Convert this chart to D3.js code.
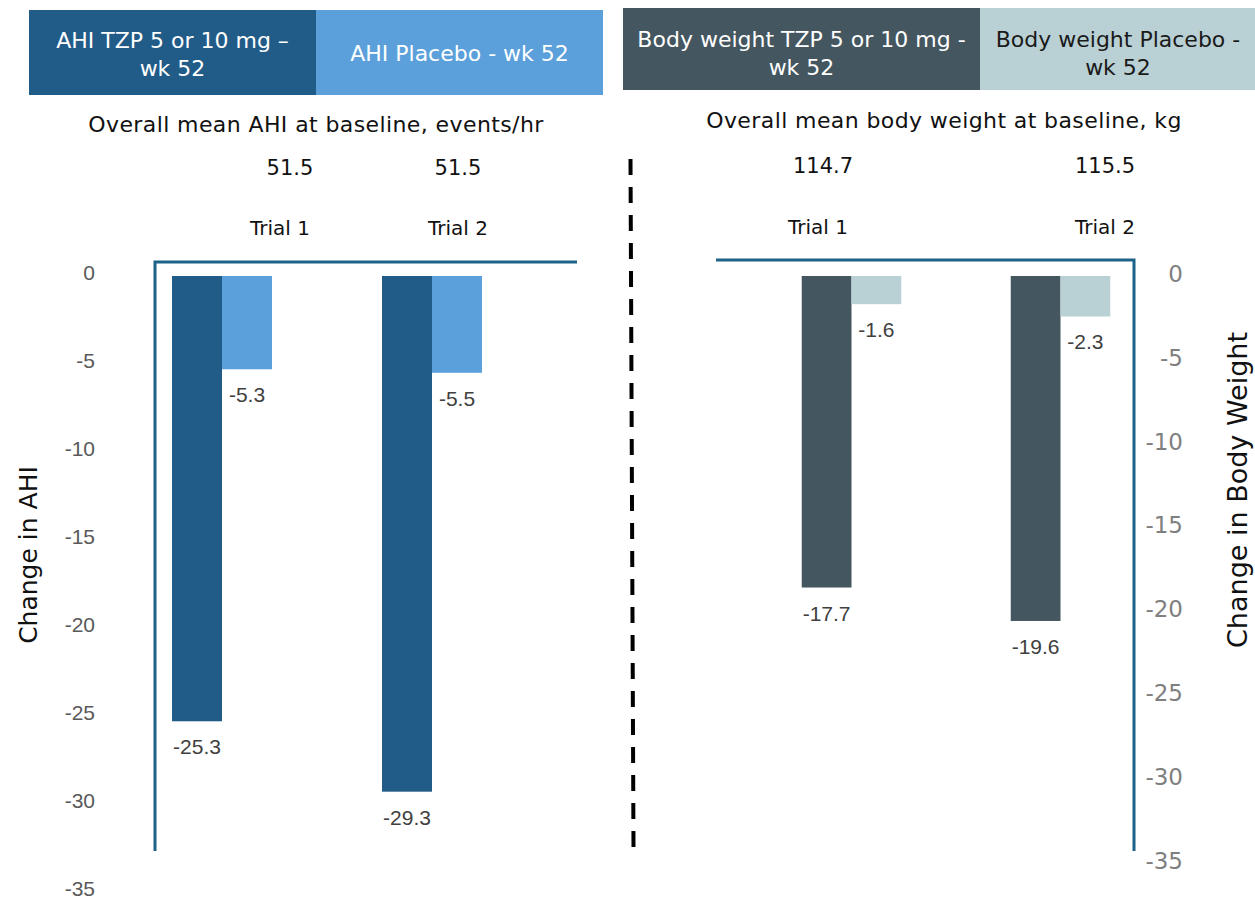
<!doctype html>
<html lang="en">
<head>
<meta charset="utf-8">
<title>AHI and body weight change</title>
<script src="https://d3js.org/d3.v7.min.js"></script>
<style>
  body { margin: 0; background: #fff; }
  svg text { font-family: "DejaVu Sans", sans-serif; }
  .num { font-family: "Liberation Sans", Arial, sans-serif; }
</style>
</head>
<body>
<svg id="chart" width="1255" height="899"></svg>
<script>
// data
var trials = ["Trial 1", "Trial 2"];
var ahiSeries = ["AHI TZP 5 or 10 mg \u2013 wk 52", "AHI Placebo - wk 52"];
var ahiTzp = [-25.3, -29.3];
var ahiPlacebo = [-5.3, -5.5];
var ahiBaseline = ["51.5", "51.5"];
var bwSeries = ["Body weight TZP 5 or 10 mg - wk 52", "Body weight Placebo - wk 52"];
var bwTzp = [-17.7, -19.6];
var bwPlacebo = [-1.6, -2.3];
var bwBaseline = ["114.7", "115.5"];
var yTicks = [0, -5, -10, -15, -20, -25, -30, -35];

var svg = d3.select("#chart");
var frameColor = "#1d6288";
// plain hyphen minus like the original
var fmt1 = function(v) { return v.toFixed(1); };
var fmt0 = function(v) { return String(v); };

// shared value scale for bars (both panels)
var y = d3.scaleLinear().domain([0, -35]).range([276, 892]);
// right hand tick labels sit on their own spacing
var yRight = d3.scaleLinear().domain([0, -35]).range([274, 861]);

function panel(opt) {
  var x0 = d3.scaleBand().domain(trials).range(opt.band);
  var x1 = d3.scaleBand().domain([0, 1]).range([0, x0.bandwidth()]).paddingOuter(1.1);
  var hx = d3.scalePoint().domain(trials).range(opt.header);
  var bx = d3.scalePoint().domain(trials).range(opt.base);

  var g = svg.append("g");

  // legend boxes
  opt.legend.forEach(function(l, i) {
    g.append("rect")
      .attr("x", l.x).attr("y", l.y).attr("width", l.w).attr("height", l.h)
      .attr("fill", opt.colors[i]);
    var t = g.append("text")
      .attr("x", l.tx).attr("y", l.ty)
      .attr("text-anchor", "middle")
      .attr("font-size", 22)
      .attr("fill", opt.legendText[i]);
    l.lines.forEach(function(s, k) {
      t.append("tspan").attr("x", l.tx).attr("dy", k == 0 ? 0 : 28).text(s);
    });
  });

  g.append("text")
    .attr("x", opt.titleX).attr("y", opt.titleY)
    .attr("text-anchor", "middle").attr("font-size", 22).attr("letter-spacing", 0.4).attr("fill", "#111")
    .text(opt.title);

  g.selectAll(".base").data(opt.baseline).enter().append("text")
    .attr("x", function(d, i) { return bx(trials[i]); })
    .attr("y", opt.baseY)
    .attr("text-anchor", "middle").attr("font-size", 21).attr("fill", "#111")
    .text(function(d) { return d; });

  g.selectAll(".trial").data(trials).enter().append("text")
    .attr("x", function(d) { return hx(d); })
    .attr("y", opt.trialY)
    .attr("text-anchor", "middle").attr("font-size", 20).attr("fill", "#111")
    .text(function(d) { return d; });

  // bars
  var rows = [];
  trials.forEach(function(t, i) {
    rows.push({ trial: t, s: 0, v: opt.tzp[i] });
    rows.push({ trial: t, s: 1, v: opt.placebo[i] });
  });

  g.selectAll(".bar").data(rows).enter().append("rect")
    .attr("x", function(d) { return x0(d.trial) + x1(d.s); })
    .attr("y", y(0))
    .attr("width", x1.bandwidth())
    .attr("height", function(d) { return y(d.v) - y(0); })
    .attr("fill", function(d) { return opt.colors[d.s]; });

  g.selectAll(".lbl").data(rows).enter().append("text")
    .attr("class", "num")
    .attr("x", function(d) { return x0(d.trial) + x1(d.s) + x1.bandwidth() / 2; })
    .attr("y", function(d) { return y(d.v) + 33; })
    .attr("text-anchor", "middle").attr("font-size", 21).attr("fill", "#404040")
    .text(function(d) { return fmt1(d.v); });

  // frame
  g.append("path")
    .attr("d", opt.frame)
    .attr("fill", "none").attr("stroke", frameColor).attr("stroke-width", 3);
}

panel({
  band: [117, 537], header: [280, 458], base: [290, 458],
  tzp: ahiTzp, placebo: ahiPlacebo, baseline: ahiBaseline,
  colors: ["#215b87", "#5ba0da"], legendText: ["#fff", "#fff"],
  legend: [
    { x: 29, y: 10, w: 287, h: 85, tx: 172.5, ty: 48, lines: ["AHI TZP 5 or 10 mg \u2013", "wk 52"] },
    { x: 316, y: 10, w: 287, h: 85, tx: 459.5, ty: 61, lines: ["AHI Placebo - wk 52"] }
  ],
  title: "Overall mean AHI at baseline, events/hr", titleX: 316, titleY: 132,
  baseY: 175, trialY: 235,
  frame: "M155,851V262H577"
});

panel({
  band: [747, 1165], header: [818, 1105], base: [823, 1105],
  tzp: bwTzp, placebo: bwPlacebo, baseline: bwBaseline,
  colors: ["#44565f", "#b9d0d5"], legendText: ["#fff", "#1a1a1a"],
  legend: [
    { x: 623, y: 8, w: 357, h: 82, tx: 801.5, ty: 47, lines: ["Body weight TZP 5 or 10 mg -", "wk 52"] },
    { x: 980, y: 8, w: 275, h: 82, tx: 1118, ty: 47, lines: ["Body weight Placebo -", "wk 52"] }
  ],
  title: "Overall mean body weight at baseline, kg", titleX: 944, titleY: 128,
  baseY: 173, trialY: 234,
  frame: "M716,260H1134V851"
});

// left tick labels
var axL = svg.append("g")
  .attr("transform", "translate(95,-3)")
  .call(d3.axisLeft(y).tickValues(yTicks).tickSize(0).tickPadding(0).tickFormat(fmt0));
axL.select(".domain").remove();
axL.selectAll("text").attr("class", "num").attr("font-size", 21).attr("fill", "#595959");

// right tick labels
var axR = svg.append("g")
  .attr("transform", "translate(1183,0)")
  .call(d3.axisLeft(yRight).tickValues(yTicks).tickSize(0).tickPadding(0).tickFormat(fmt0));
axR.select(".domain").remove();
axR.selectAll("text").attr("font-family", "DejaVu Sans").attr("font-size", 23).attr("fill", "#7f7f7f");

// axis titles
svg.append("text")
  .attr("transform", "translate(37,555) rotate(-90)")
  .attr("text-anchor", "middle").attr("font-size", 25).attr("fill", "#111")
  .text("Change in AHI");
svg.append("text")
  .attr("transform", "translate(1247,490) rotate(-90)")
  .attr("text-anchor", "middle").attr("font-size", 27).attr("fill", "#111")
  .text("Change in Body Weight");

// divider
svg.append("line")
  .attr("x1", 630.5).attr("y1", 159).attr("x2", 633.5).attr("y2", 848)
  .attr("stroke", "#000").attr("stroke-width", 4).attr("stroke-dasharray", "16,12");
</script>
</body>
</html>
